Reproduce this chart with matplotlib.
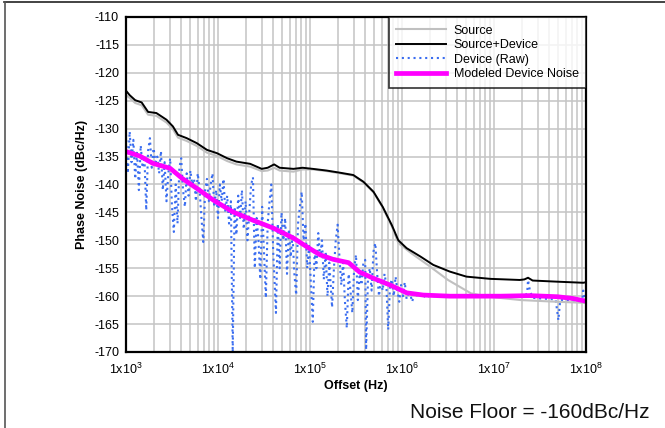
import numpy as np
import matplotlib
matplotlib.use('Agg')
import matplotlib.pyplot as plt
from matplotlib.lines import Line2D

plt.rcParams['font.family'] = ['Liberation Sans', 'DejaVu Sans']
plt.rcParams['mathtext.default'] = 'regular'
plt.rcParams['axes.unicode_minus'] = False

# offsets are given as log10(Hz), levels in dBc/Hz
src_logf = [3.0, 3.04, 3.10, 3.17, 3.24, 3.33, 3.44, 3.51, 3.565, 3.66, 3.77, 3.88,
            3.99, 4.10, 4.20, 4.35, 4.475, 4.54, 4.61, 4.67, 4.82, 4.92, 5.03, 5.18,
            5.33, 5.47, 5.58, 5.69, 5.79, 5.89, 5.96, 6.10, 6.28, 6.50, 6.75, 6.94,
            7.29, 7.68, 8.0]
src_db = [-124.0, -124.5, -125.4, -125.8, -127.5, -127.7, -128.9, -130.1, -131.6,
          -132.2, -133.1, -134.3, -134.9, -135.8, -136.4, -136.8, -137.6, -137.5,
          -137.0, -137.5, -137.7, -137.3, -137.3, -137.6, -138.0, -138.4, -139.6,
          -141.4, -144.1, -147.5, -150.5, -152.3, -154.4, -157.1, -159.5, -160.1,
          -160.7, -161.0, -161.2]

sd_logf = [3.0, 3.04, 3.10, 3.17, 3.24, 3.33, 3.44, 3.51, 3.565, 3.66, 3.77, 3.88,
           3.99, 4.10, 4.20, 4.35, 4.475, 4.54, 4.61, 4.67, 4.82, 4.92, 5.03, 5.18,
           5.33, 5.47, 5.58, 5.69, 5.79, 5.89, 5.96, 6.05, 6.20, 6.34, 6.52, 6.70,
           6.96, 7.28, 7.33, 7.37, 7.42, 7.68, 7.97, 8.0]
sd_db = [-123.2, -124.0, -124.9, -125.3, -127.0, -127.2, -128.4, -129.6, -131.1,
         -131.7, -132.6, -133.8, -134.4, -135.3, -135.9, -136.3, -137.2, -137.0,
         -136.4, -137.0, -137.2, -137.0, -137.2, -137.5, -137.9, -138.3, -139.5,
         -141.3, -144.0, -147.3, -150.0, -151.4, -152.9, -154.4, -155.6, -156.5,
         -156.9, -157.1, -157.0, -156.7, -157.2, -157.4, -157.6, -157.5]

raw_logf = [3.00, 3.02, 3.04, 3.06, 3.08, 3.10, 3.12, 3.14, 3.16, 3.18, 3.20, 3.22,
            3.24, 3.26, 3.28, 3.30, 3.32, 3.34, 3.36, 3.38, 3.40, 3.42, 3.44, 3.46,
            3.48, 3.50, 3.52, 3.54, 3.56, 3.58, 3.60, 3.62, 3.64, 3.66, 3.68, 3.70,
            3.72, 3.74, 3.76, 3.78, 3.80, 3.82, 3.84, 3.86, 3.88, 3.90, 3.92, 3.94,
            3.96, 3.98, 4.00, 4.02, 4.04, 4.06, 4.08, 4.10, 4.12, 4.14, 4.16, 4.18,
            4.20, 4.22, 4.24, 4.26, 4.28, 4.30, 4.32, 4.34, 4.36, 4.38, 4.40, 4.42,
            4.44, 4.46, 4.48, 4.50, 4.52, 4.54, 4.56, 4.58, 4.60, 4.63, 4.65, 4.67,
            4.69, 4.71, 4.73, 4.75, 4.77, 4.79, 4.81, 4.83, 4.85, 4.87, 4.89, 4.91,
            4.93, 4.95, 4.97, 4.99, 5.01, 5.03, 5.05, 5.07, 5.09, 5.11, 5.13, 5.15,
            5.17, 5.19, 5.21, 5.24, 5.26, 5.28, 5.30, 5.32, 5.34, 5.36, 5.38, 5.40,
            5.42, 5.44, 5.46, 5.48, 5.50, 5.52, 5.54, 5.56, 5.58, 5.60, 5.61, 5.63,
            5.65, 5.67, 5.69, 5.71, 5.73, 5.75, 5.77, 5.79, 5.81, 5.83, 5.85, 5.87,
            5.89, 5.91, 5.93, 5.95, 5.97, 5.99, 6.01, 6.03, 6.05, 6.08, 6.11, 6.14,
            6.18, 6.22, 6.26, 6.30, 6.35, 6.45, 6.60, 6.80, 7.00, 7.20, 7.33, 7.36,
            7.37, 7.39, 7.42, 7.50, 7.60, 7.67, 7.70, 7.72, 7.80, 7.90, 7.96, 7.97,
            7.99, 8.00]
raw_db = [-131.0, -138.0, -130.5, -136.0, -132.0, -139.0, -134.0, -141.0, -133.0,
          -137.0, -135.0, -144.6, -134.0, -131.7, -137.0, -133.5, -136.0, -135.0,
          -138.0, -134.0, -141.0, -136.0, -143.0, -138.0, -135.3, -144.0, -148.5,
          -140.0, -147.0, -137.0, -135.3, -141.0, -144.0, -138.0, -142.0, -137.5,
          -140.0, -139.0, -143.0, -138.0, -141.0, -146.0, -150.3, -141.0, -139.0,
          -143.0, -140.0, -138.0, -144.0, -141.0, -146.0, -140.0, -143.0, -139.0,
          -145.0, -142.0, -147.0, -143.0, -170.0, -144.0, -149.0, -142.0, -146.0,
          -141.0, -148.0, -143.0, -150.0, -145.0, -140.0, -138.7, -155.0, -146.0,
          -150.0, -157.0, -144.0, -152.0, -160.3, -147.0, -143.0, -140.0, -152.0,
          -163.0, -147.0, -155.0, -145.0, -150.0, -146.0, -156.0, -148.0, -153.0,
          -149.0, -156.0, -159.8, -147.0, -144.0, -141.3, -150.0, -147.0, -155.0,
          -151.0, -158.0, -164.6, -152.0, -155.0, -148.7, -153.0, -150.0, -157.0,
          -152.0, -160.0, -154.0, -162.0, -155.0, -150.0, -147.2, -153.0, -158.0,
          -154.0, -161.0, -165.7, -156.0, -159.0, -163.0, -155.0, -152.6, -160.7,
          -156.0, -158.0, -154.0, -153.5, -169.6, -157.0, -155.0, -159.0, -152.0,
          -150.5, -156.0, -160.0, -157.0, -159.0, -156.0, -158.0, -166.0, -158.0,
          -157.0, -160.0, -156.5, -159.0, -161.0, -158.0, -160.0, -157.5, -160.5,
          -159.0, -161.0, -159.3, -160.2, -159.5, -160.4, -159.8, -160.0, -160.1,
          -160.0, -160.0, -160.0, -160.1, -160.0, -159.5, -157.1, -159.0, -160.3,
          -160.4, -160.5, -160.6, -164.3, -160.7, -160.7, -160.8, -160.6, -159.0,
          -160.4, -160.8]

mod_logf = [3.0, 3.15, 3.29, 3.48, 3.61, 3.77, 3.95, 4.16, 4.38, 4.60, 4.82, 4.97,
            5.11, 5.25, 5.42, 5.54, 5.69, 5.87, 6.05, 6.23, 6.52, 7.07, 7.39, 7.69,
            7.85, 8.0]
mod_db = [-134.1, -134.9, -136.2, -137.1, -138.9, -140.7, -142.8, -144.9, -146.4,
          -147.8, -149.6, -151.2, -152.6, -153.4, -154.0, -155.7, -156.8, -158.0,
          -159.4, -159.8, -160.0, -160.0, -159.9, -160.1, -160.4, -160.9]

x_ticks = [1e3, 1e4, 1e5, 1e6, 1e7, 1e8]
x_ticklabels = ['1x10$^{3}$', '1x10$^{4}$', '1x10$^{5}$', '1x10$^{6}$',
                '1x10$^{7}$', '1x10$^{8}$']
y_ticks = list(range(-170, -109, 5))


def f(logs):
    return 10 ** np.array(logs)


fig = plt.figure(figsize=(6.65, 4.28), dpi=100)
ax = fig.add_axes([126 / 665, 1 - 352 / 428, 460 / 665, 335 / 428])

ax.plot(f(raw_logf), raw_db, color='#3a6df0', linestyle=(0, (1, 1.8)), linewidth=1.5,
        label='Device (Raw)', zorder=3)
ax.plot(f(src_logf), src_db, color='#c0c0c0', linewidth=1.5, label='Source', zorder=4)
ax.plot(f(sd_logf), sd_db, color='black', linewidth=1.4, label='Source+Device', zorder=5)
ax.plot(f(mod_logf), mod_db, color='#ff00ff', linewidth=3.4,
        label='Modeled Device Noise', zorder=6)

ax.set_xscale('log')
ax.set_xlim(1e3, 1e8)
ax.set_ylim(-170, -110)
ax.set_xticks(x_ticks)
ax.set_xticklabels(x_ticklabels)
ax.set_yticks(y_ticks)
ax.tick_params(axis='both', which='both', length=0, labelsize=9)
ax.tick_params(axis='x', pad=7)
ax.tick_params(axis='y', pad=5)
ax.grid(True, which='both', color='#c4c4c4', linewidth=1.1)
ax.set_axisbelow(True)
for s in ax.spines.values():
    s.set_linewidth(1.6)
    s.set_zorder(7)

ax.set_xlabel('Offset (Hz)', fontsize=9, fontweight='bold', labelpad=2)
ax.set_ylabel('Phase Noise (dBc/Hz)', fontsize=9, fontweight='bold', labelpad=4)

h, l = ax.get_legend_handles_labels()
order = [1, 2, 0, 3]
leg = ax.legend([h[i] for i in order], [l[i] for i in order], loc='upper right',
                fontsize=9, frameon=True, fancybox=False, borderaxespad=0,
                handlelength=4.0, labelspacing=0.2, borderpad=0.6,
                handletextpad=0.6)
leg.get_frame().set_edgecolor('black')
leg.get_frame().set_linewidth(1.2)
leg.set_zorder(10)

fig.text(650 / 665, 1 - 413 / 428, 'Noise Floor = -160dBc/Hz', fontsize=15,
         ha='right', va='center', color='#111111')

# outer frame lines (top and left)
fig.add_artist(Line2D([4 / 665, 1], [1 - 1.5 / 428, 1 - 1.5 / 428],
                      color='#222222', linewidth=1.2))
fig.add_artist(Line2D([4.5 / 665, 4.5 / 665], [0, 1 - 1.5 / 428],
                      color='#555555', linewidth=1.2))

fig.savefig('out.png', dpi=100)
